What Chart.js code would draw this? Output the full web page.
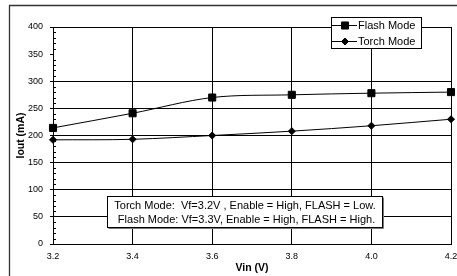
<!DOCTYPE html>
<html>
<head>
<meta charset="utf-8">
<script src="https://cdn.jsdelivr.net/npm/chart.js@4/dist/chart.umd.min.js"></script>
<style>
  html, body { margin: 0; padding: 0; background: #fff; }
  #wrap { position: relative; width: 457px; height: 276px; }
</style>
</head>
<body>
<div id="wrap"><canvas id="chart" width="457" height="276"></canvas></div>
<script>
const vin = ['3.2', '3.4', '3.6', '3.8', '4.0', '4.2'];
const flashMode = [214, 241, 270, 275, 278, 280];
const torchMode = [192, 193, 200, 208, 218, 230];
const yTicks = [0, 50, 100, 150, 200, 250, 300, 350, 400];
const noteLines = [
    'Torch Mode:  Vf=3.2V , Enable = High, FLASH = Low.',
    ' Flash Mode: Vf=3.3V, Enable = High, FLASH = High.'
];

const FONT = "'Liberation Sans', Arial, sans-serif";

// frame, minor ticks, legend box and the note box
const extras = {
    id: 'extras',
    afterDraw(chart) {
        const ctx = chart.ctx;
        const y = chart.scales.y;
        const area = chart.chartArea;
        ctx.save();

        // outer frame (runs off the right and bottom edges)
        ctx.strokeStyle = '#333';
        ctx.lineWidth = 1.3;
        ctx.beginPath();
        ctx.moveTo(9.5, 300);
        ctx.lineTo(9.5, 5.5);
        ctx.lineTo(470, 5.5);
        ctx.stroke();

        // minor ticks on the value axis, inside
        ctx.strokeStyle = '#000';
        ctx.lineWidth = 1;
        ctx.beginPath();
        for (let v = 0; v <= 400; v += 10) {
            if (v % 50 === 0) continue;
            const py = Math.round(y.getPixelForValue(v)) + 0.5;
            ctx.moveTo(area.left, py);
            ctx.lineTo(area.left + 3, py);
        }
        ctx.stroke();

        // legend
        const lx = 331.5, ly = 17.5, lw = 90, lh = 31;
        ctx.fillStyle = '#fff';
        ctx.fillRect(lx, ly, lw, lh);
        ctx.strokeStyle = '#000';
        ctx.strokeRect(lx, ly, lw, lh);
        const rows = [
            { label: chart.data.datasets[0].label, y: 25.5, style: 'rect', r: 5 },
            { label: chart.data.datasets[1].label, y: 41.5, style: 'rectRot', r: 3.5 }
        ];
        ctx.font = '11px ' + FONT;
        ctx.textBaseline = 'middle';
        ctx.textAlign = 'left';
        rows.forEach(row => {
            ctx.strokeStyle = '#000';
            ctx.lineWidth = 1;
            ctx.beginPath();
            ctx.moveTo(331, row.y);
            ctx.lineTo(357, row.y);
            ctx.stroke();
            ctx.fillStyle = '#000';
            Chart.helpers.drawPoint(ctx, { pointStyle: row.style, radius: row.r, borderWidth: 1, rotation: 0 }, 345, row.y);
            ctx.fillStyle = '#000';
            ctx.fillText(row.label, 358, row.y + 0.5);
        });

        // note box
        const bx = 107.5, by = 196.5, bw = 275, bh = 31;
        ctx.fillStyle = '#fff';
        ctx.fillRect(bx, by, bw, bh);
        ctx.strokeStyle = '#000';
        ctx.lineWidth = 1;
        ctx.strokeRect(bx, by, bw, bh);
        ctx.strokeStyle = '#777';
        ctx.beginPath();
        ctx.moveTo(bx + 1, by + bh + 1);
        ctx.lineTo(bx + bw + 1, by + bh + 1);
        ctx.lineTo(bx + bw + 1, by + 1);
        ctx.stroke();
        ctx.fillStyle = '#000';
        ctx.font = '11px ' + FONT;
        ctx.textAlign = 'center';
        ctx.fillText(noteLines[0], bx + bw / 2, 206);
        ctx.fillText(noteLines[1], bx + bw / 2, 220);

        ctx.restore();
    }
};

new Chart(document.getElementById('chart'), {
    type: 'line',
    data: {
        labels: vin,
        datasets: [{
            label: 'Flash Mode',
            data: flashMode,
            borderColor: '#000',
            backgroundColor: '#000',
            borderWidth: 1,
            tension: 0.33,
            pointStyle: 'rect',
            pointRadius: 5,
            pointBorderWidth: 1,
            pointBackgroundColor: '#000',
            pointBorderColor: '#000'
        }, {
            label: 'Torch Mode',
            data: torchMode,
            borderColor: '#000',
            backgroundColor: '#000',
            borderWidth: 1,
            tension: 0.33,
            pointStyle: 'rectRot',
            pointRadius: 3.5,
            pointBorderWidth: 1,
            pointBackgroundColor: '#000',
            pointBorderColor: '#000'
        }]
    },
    options: {
        responsive: false,
        animation: false,
        layout: { padding: { left: 0, top: 27, right: 6, bottom: 0 } },
        plugins: {
            legend: { display: false },
            tooltip: { enabled: false }
        },
        scales: {
            x: {
                type: 'category',
                offset: false,
                afterFit(scale) {
                    scale.height = 32;
                    scale.paddingLeft = 0;
                    scale.paddingRight = 0;
                },
                grid: { color: '#000', lineWidth: 1, drawTicks: false },
                border: { color: '#000', width: 1 },
                ticks: {
                    color: '#000',
                    font: { family: FONT, size: 9 },
                    padding: 7,
                    maxRotation: 0,
                    autoSkip: false
                },
                title: {
                    display: true,
                    text: 'Vin (V)',
                    color: '#000',
                    font: { family: FONT, size: 10.5, weight: 'bold' },
                    padding: { top: 0, bottom: 2 }
                }
            },
            y: {
                min: 0,
                max: 400,
                afterFit(scale) {
                    scale.width = 53;
                    scale.paddingTop = 0;
                    scale.paddingBottom = 0;
                },
                afterBuildTicks(scale) {
                    scale.ticks = yTicks.map(v => ({ value: v }));
                },
                grid: {
                    color: c => (c.tick && c.tick.value === 350) ? 'rgba(0,0,0,0)' : '#000',
                    tickColor: '#000',
                    tickLength: 3,
                    lineWidth: 1
                },
                border: { color: '#000', width: 1 },
                ticks: {
                    color: '#000',
                    font: { family: FONT, size: 9 },
                    padding: 7
                },
                title: {
                    display: true,
                    text: 'Iout (mA)',
                    color: '#000',
                    font: { family: FONT, size: 10.5, weight: 'bold' },
                    padding: { top: 15, bottom: 0 }
                }
            }
        }
    },
    plugins: [extras]
});
</script>
</body>
</html>
